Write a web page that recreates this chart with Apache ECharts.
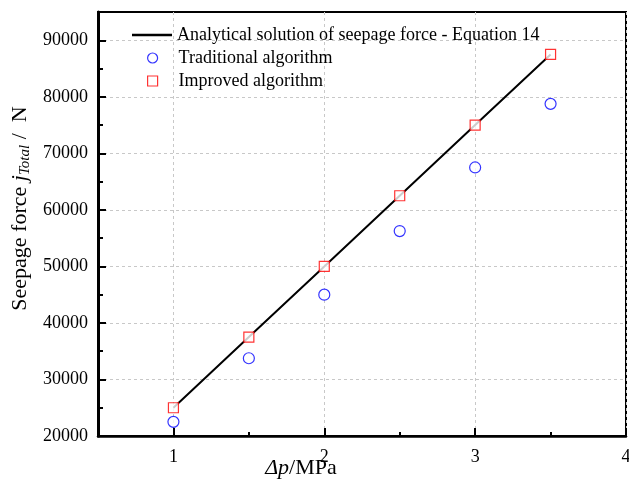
<!DOCTYPE html>
<html><head><meta charset="utf-8">
<script src="https://cdn.jsdelivr.net/npm/echarts@6/dist/echarts.min.js"></script>
<style>html,body{margin:0;padding:0;background:#fff}#c{width:629px;height:484px}</style>
</head><body><div id="c"></div>
<script>
const pressure = [1, 1.5, 2, 2.5, 3, 3.5];
const analytical = [25000, 37500, 50000, 62500, 75000, 87500];
const traditional = [22500, 33750, 45000, 56250, 67500, 78750];
const improved = [25000, 37500, 50000, 62500, 75000, 87500];
const xMajor = [1, 2, 3, 4];
const xMinor = [1.5, 2.5, 3.5];
const yMajor = [20000, 30000, 40000, 50000, 60000, 70000, 80000, 90000];
const yMinor = [25000, 35000, 45000, 55000, 65000, 75000, 85000];
const seriesNames = ['Analytical solution of seepage force - Equation 14', 'Traditional algorithm', 'Improved algorithm'];

const F = "Liberation Serif";
const pair = (xs, ys) => xs.map((x, i) => [x, ys[i]]);
const split = {show: true, lineStyle: {color: '#c8c8c8', type: [3, 3], width: 1}};
const txt = {fontFamily: F, fontSize: 18, color: '#000'};

const chart = echarts.init(document.getElementById('c'), null, {renderer: 'canvas'});
chart.setOption({
  animation: false,
  backgroundColor: '#fff',
  textStyle: {fontFamily: F},
  grid: {left: 98, right: 3, top: 12, bottom: 48, show: true, borderColor: '#000', borderWidth: 2, containLabel: false, outerBoundsMode: 'none'},
  legend: [{
    orient: 'vertical', left: 132, top: 26, padding: 0, itemWidth: 40, itemHeight: 2.5,
    textStyle: {fontFamily: F, fontSize: 18, color: '#000'},
    data: [{name: seriesNames[0], icon: 'rect'}]
  }, {
    orient: 'vertical', left: 147, top: 49, padding: 0, itemWidth: 10, itemHeight: 10, itemGap: 5,
    textStyle: {fontFamily: F, fontSize: 18, color: '#000', padding: [0, 0, 0, 16]},
    data: [
      {name: seriesNames[1], icon: 'circle', itemStyle: {color: '#fff', borderColor: '#0000ff', borderWidth: 1.2}},
      {name: seriesNames[2], icon: 'path://M0,0H10V10H0Z', itemStyle: {color: '#fff', borderColor: '#ff0000', borderWidth: 1.2}}
    ]
  }],
  xAxis: [{
    type: 'value', min: 0.5, max: 4, interval: 0.5,
    axisLine: {lineStyle: {color: '#000', width: 2.5}},
    axisTick: {inside: true, length: 8, customValues: xMajor, lineStyle: {width: 2, color: '#000'}},
    axisLabel: Object.assign({margin: 12, formatter: v => xMajor.includes(v) ? String(v) : ''}, txt),
    splitLine: split,
    name: '{i|Δp}{a|/MPa}', nameLocation: 'middle', nameGap: 21, nameMoveOverlap: false,
    nameTextStyle: {padding: [0, 122, 0, 0], rich: {
      i: {fontFamily: F, fontSize: 22, fontStyle: 'italic', color: '#000'},
      a: {fontFamily: F, fontSize: 22, color: '#000'}}}
  }, {
    type: 'value', min: 0.5, max: 4, interval: 0.5, position: 'bottom',
    axisLine: {show: false},
    axisTick: {inside: true, length: 4, customValues: xMinor, lineStyle: {width: 2, color: '#000'}},
    axisLabel: {show: false}, splitLine: {show: false}
  }],
  yAxis: [{
    type: 'value', min: 20000, max: 95000, interval: 5000,
    axisLine: {lineStyle: {color: '#000', width: 3}},
    axisTick: {inside: true, length: 8, customValues: yMajor, lineStyle: {width: 2, color: '#000'}},
    axisLabel: Object.assign({margin: 10, formatter: v => yMajor.includes(v) ? String(v) : ''}, txt),
    splitLine: split,
    name: '{a|Seepage force }{i|j}{s|Total}{a| /  N}', nameLocation: 'middle', nameGap: 60, nameMoveOverlap: false,
    nameTextStyle: {padding: [0, 0, 0, 31], rich: {
      a: {fontFamily: F, fontSize: 22, color: '#000', height: 26},
      i: {fontFamily: F, fontSize: 22, fontStyle: 'italic', color: '#000', height: 26},
      s: {fontFamily: F, fontSize: 15, fontStyle: 'italic', color: '#000', verticalAlign: 'bottom', height: 26, padding: [9, 0, 0, 0]}}}
  }, {
    type: 'value', min: 20000, max: 95000, interval: 5000, position: 'left',
    axisLine: {show: false},
    axisTick: {inside: true, length: 5, customValues: yMinor, lineStyle: {width: 2, color: '#000'}},
    axisLabel: {show: false}, splitLine: {show: false}
  }],
  series: [{
    name: seriesNames[0], type: 'line',
    data: pair(pressure, analytical), symbol: 'none', lineStyle: {color: '#000', width: 2}, itemStyle: {color: '#000'}, z: 2
  }, {
    name: seriesNames[1], type: 'scatter', data: pair(pressure, traditional),
    symbol: 'circle', symbolSize: 11, itemStyle: {color: '#fff', borderColor: '#0000ff', borderWidth: 1.2}, z: 3
  }, {
    name: seriesNames[2], type: 'scatter', data: pair(pressure, improved),
    symbol: 'rect', symbolSize: 10, itemStyle: {color: '#fff', borderColor: '#ff0000', borderWidth: 1.2}, z: 4
  }]
});
</script></body></html>
